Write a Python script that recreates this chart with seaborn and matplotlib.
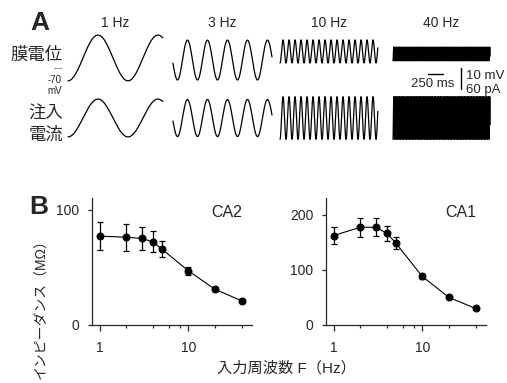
import numpy as np
import pandas as pd
import matplotlib
matplotlib.use('Agg')
import matplotlib.pyplot as plt
import seaborn as sns

# --- panel A: sinusoidal current injection and membrane response ---
trace_freq_hz = [1, 3, 10, 40]
trace_label = ['1 Hz', '3 Hz', '10 Hz', '40 Hz']
trace_dur_s = [1.58, 1.65, 1.63, 1.62]
trace_lag_s = [0.0, 0.075, 0.0, 0.0]
vm_offset_mv = [10.5, 9.5, 13.6, 12.4]   # above -70 mV
vm_amp_mv = [10.9, 9.5, 5.5, 3.3]
inj_amp_pa = [54, 53, 61, 61]

scale_ms = 250
scale_mv = 10
scale_pa = 60

# --- panel B: impedance vs input frequency ---
freq_hz = [1, 2, 3, 4, 5, 10, 20, 40]
ca2_mean = [77, 76, 75, 72, 66, 47, 31, 21]
ca2_sem = [12, 11.5, 10, 9, 7, 3.5, 1.5, 1]
ca1_mean = [162, 177, 177, 166, 149, 88, 50, 30]
ca1_sem = [16, 17, 16, 13, 11, 5, 3, 2]

W, H = 507, 383
PX_PER_S = 60.0
PX_PER_MV = 2.1


def fx(x):
    return x / W


def fy(y):
    return 1 - y / H


sns.set_style('ticks')
plt.rcParams['font.family'] = ['Liberation Sans', 'Noto Sans CJK JP', 'DejaVu Sans']
plt.rcParams['axes.linewidth'] = 0.9

fig = plt.figure(figsize=(W / 100, H / 100), dpi=100)

# ---------- panel A ----------
ax_a = fig.add_axes([fx(60), fy(150), 440 / W, 130 / H])
ax_a.set_xlim(0, 440 / PX_PER_S)
ax_a.set_ylim((80 - 150) / PX_PER_MV, (80 - 20) / PX_PER_MV)
ax_a.axis('off')

trace_start_s = [0.133, 1.883, 3.667, 5.55]
cur_offset = (80 - 118) / PX_PER_MV
mv_per_pa = scale_mv / scale_pa

for i, f in enumerate(trace_freq_hz):
    t = np.linspace(0, trace_dur_s[i], 8000)
    wave = -np.cos(2 * np.pi * f * (t - trace_lag_s[i]))
    vm = vm_offset_mv[i] + vm_amp_mv[i] * wave
    inj = cur_offset + inj_amp_pa[i] * mv_per_pa * wave
    x = trace_start_s[i] + t
    sns.lineplot(x=x, y=vm, ax=ax_a, color='k', lw=0.9, estimator=None, sort=False)
    sns.lineplot(x=x, y=inj, ax=ax_a, color='k', lw=0.9, estimator=None, sort=False)
    ax_a.text(trace_start_s[i] + trace_dur_s[i] / 2, (80 - 23) / PX_PER_MV,
              trace_label[i], ha='center', va='center', fontsize=10)

# scale bars
sb_x = (428 - 60) / PX_PER_S
sb_y = (80 - 74) / PX_PER_MV
ax_a.plot([sb_x, sb_x + scale_ms / 1000], [sb_y, sb_y], color='k', lw=1)
vb_x = (461 - 60) / PX_PER_S
vb_y = (80 - 89) / PX_PER_MV
ax_a.plot([vb_x, vb_x], [vb_y, vb_y + scale_mv], color='k', lw=1)
fig.text(fx(433), fy(84), f'{scale_ms} ms', ha='center', va='center', fontsize=9.5)
fig.text(fx(466), fy(76), f'{scale_mv} mV', ha='left', va='center', fontsize=9.5)
fig.text(fx(466), fy(90), f'{scale_pa} pA', ha='left', va='center', fontsize=9.5)

fig.text(fx(40), fy(23), 'A', ha='center', va='center', fontsize=19, fontweight='bold')
fig.text(fx(63), fy(55), '膜電位', ha='right', va='center', fontsize=12.5)
fig.text(fx(58), fy(69), '—', ha='center', va='center', fontsize=6)
fig.text(fx(62), fy(80), '-70', ha='right', va='center', fontsize=7)
fig.text(fx(62), fy(91), 'mV', ha='right', va='center', fontsize=7)
fig.text(fx(63), fy(114), '注入', ha='right', va='center', fontsize=12.5)
fig.text(fx(63), fy(135), '電流', ha='right', va='center', fontsize=12.5)

# ---------- panel B ----------
df = pd.DataFrame({'freq': freq_hz * 2,
                   'imp': ca2_mean + ca1_mean,
                   'sem': ca2_sem + ca1_sem,
                   'cell': ['CA2'] * len(freq_hz) + ['CA1'] * len(freq_hz)})

panels = [('CA2', 92, 110, [0, 100], 227), ('CA1', 326, 230, [0, 100, 200], 461)]
for cell, left_px, ytop, yticks, lab_x in panels:
    ax = fig.add_axes([fx(left_px), fy(325), 160 / W, 127 / H])
    sub = df[df['cell'] == cell]
    ax.errorbar(sub['freq'], sub['imp'], yerr=sub['sem'], fmt='none',
                ecolor='k', elinewidth=0.9, capsize=2.5, capthick=0.9)
    sns.lineplot(data=sub, x='freq', y='imp', ax=ax, color='k', lw=0.8,
                 marker='o', markersize=5, markeredgecolor='k', estimator=None)
    ax.set_xscale('log')
    ax.set_xlim(0.82, 52.5)
    ax.set_ylim(0, ytop)
    ax.set_xticks([1, 10])
    ax.set_xticklabels(['1', '10'])
    ax.set_xticks([2, 4, 6, 8, 20, 40], minor=True)
    ax.set_xticklabels([], minor=True)
    ax.set_yticks(yticks)
    ax.tick_params(axis='x', which='major', length=4.5, width=0.9, pad=7, labelsize=10)
    ax.tick_params(axis='x', which='minor', length=2.2, width=0.9)
    ax.tick_params(axis='y', length=3, width=0.9, pad=6, labelsize=10)
    ax.set_xlabel('')
    ax.set_ylabel('')
    sns.despine(ax=ax)
    fig.text(fx(lab_x), fy(212.5), cell, ha='center', va='center', fontsize=11.5)

fig.text(fx(39), fy(207), 'B', ha='center', va='center', fontsize=19, fontweight='bold')
fig.text(fx(41), fy(306), 'インピーダンス（MΩ）', rotation=90, ha='center', va='center', fontsize=10)
fig.text(fx(286), fy(368), '入力周波数 F（Hz）', ha='center', va='center', fontsize=11)

fig.savefig('out.png', dpi=100)
